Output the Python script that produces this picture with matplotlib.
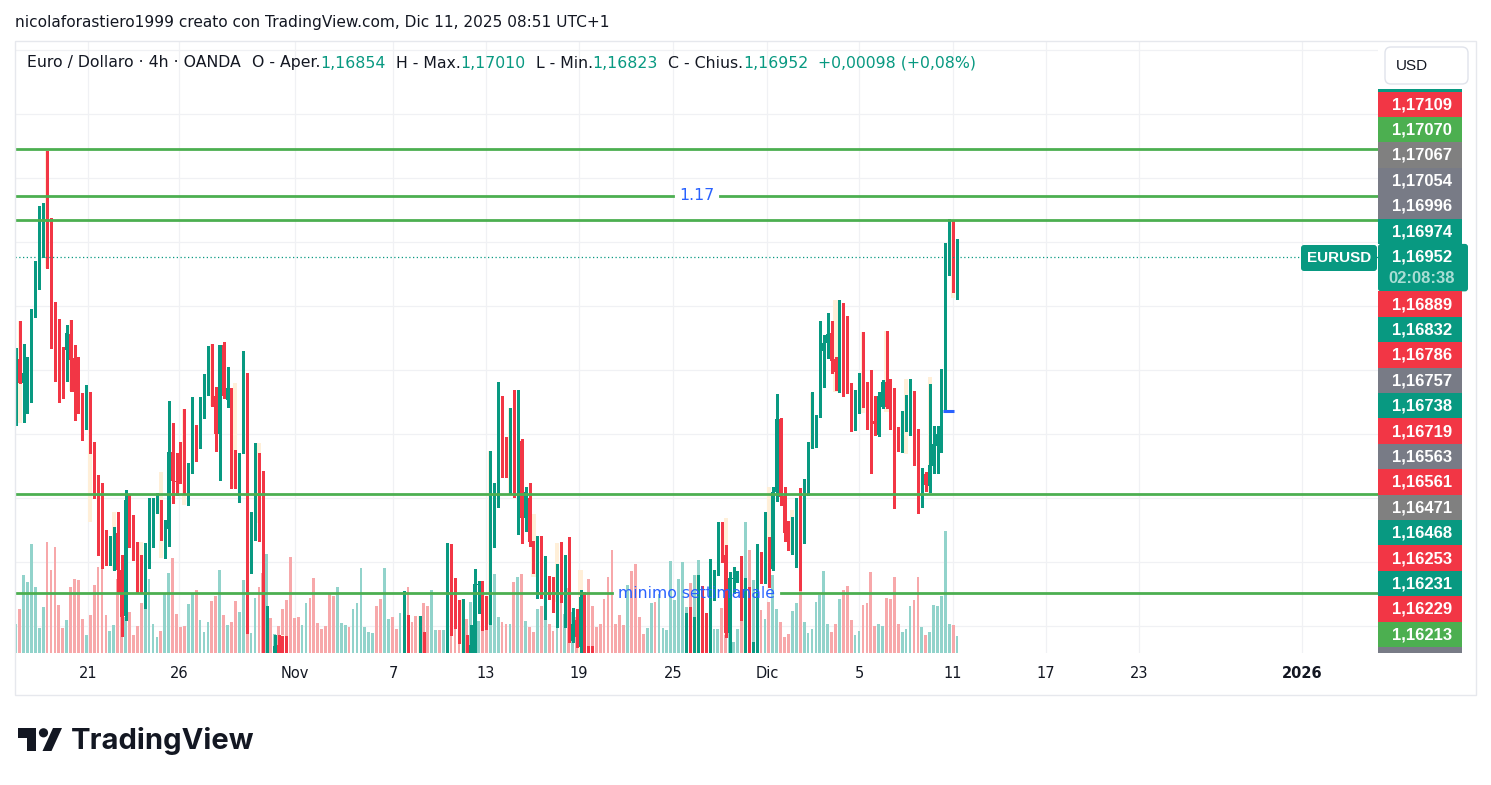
import matplotlib
matplotlib.use("Agg")
import matplotlib.pyplot as plt
from matplotlib.patches import Rectangle, FancyBboxPatch, Circle, Polygon

# ---- data (EUR/USD 4h, OANDA) -------------------------------------------
opens = [
    1.16454, 1.16634, 1.16558, 1.16590, 1.16604, 1.16769, 1.16854, 1.16954, 1.17100, 1.16972,
    1.16766, 1.16706, 1.16671, 1.16662, 1.16712, 1.16636, 1.16534, 1.16493, 1.16421, 1.16530,
    1.16363, 1.16215, 1.16110, 1.16090, 1.15996, 1.16046, 1.16090, 1.15975, 1.15830, 1.16196,
    1.16126, 1.16040, 1.15988, 1.15960, 1.16004, 1.16069, 1.16168, 1.16178, 1.16074, 1.16103,
    1.16345, 1.16254, 1.16355, 1.16350, 1.16246, 1.16279, 1.16412, 1.16386, 1.16454, 1.16556,
    1.16662, 1.16520, 1.16399, 1.16678, 1.16506, 1.16543, 1.16340, 1.16230, 1.16340, 1.16569,
    1.16004, 1.16121, 1.16322, 1.16171, 1.15550, 1.15650, 1.15560, 1.15740, 1.15722, 1.15600,
    1.15400, 1.15350, 1.15300, 1.15250, 1.15400, 1.15450, 1.15300, 1.15200, 1.15100, 1.15000,
    1.14900, 1.14800, 1.14700, 1.14750, 1.14850, 1.14950, 1.14900, 1.15000, 1.15200, 1.15400,
    1.15450, 1.15500, 1.15600, 1.15550, 1.15450, 1.15500, 1.15600, 1.15550, 1.15500, 1.15600,
    1.15803, 1.15650, 1.15620, 1.15600, 1.15690, 1.15620, 1.15550, 1.15580, 1.15620, 1.15600,
    1.15600, 1.16011, 1.15949, 1.15868, 1.15754, 1.15761, 1.15650, 1.15700, 1.15928, 1.15928,
    1.15892, 1.15817, 1.16166, 1.16204, 1.16511, 1.16371, 1.16331, 1.16478, 1.16210, 1.16378,
    1.16139, 1.16201, 1.16064, 1.16001, 1.16014, 1.15910, 1.15938, 1.15921, 1.15904, 1.15970,
    1.15890, 1.15970, 1.15754, 1.15819, 1.15733, 1.15892, 1.15733, 1.15720, 1.15650, 1.15600,
    1.15550, 1.15520, 1.15480, 1.15450, 1.15400, 1.15350, 1.15300, 1.15380, 1.15320, 1.15250,
    1.15200, 1.15180, 1.15250, 1.15300, 1.15220, 1.15280, 1.15350, 1.15400, 1.15480, 1.15520,
    1.15580, 1.15620, 1.15824, 1.15600, 1.15772, 1.15909, 1.15700, 1.15600, 1.15928, 1.15965,
    1.16090, 1.16022, 1.15777, 1.15948, 1.15951, 1.15962, 1.15829, 1.15891, 1.15700, 1.15746,
    1.16027, 1.15935, 1.16048, 1.15977, 1.16220, 1.16446, 1.16206, 1.16102, 1.16090, 1.16100,
    1.16175, 1.16071, 1.16238, 1.16366, 1.16425, 1.16454, 1.16660, 1.16683, 1.16715, 1.16634,
    1.16597, 1.16777, 1.16650, 1.16560, 1.16415, 1.16535, 1.16591, 1.16544, 1.16517, 1.16441,
    1.16396, 1.16485, 1.16564, 1.16544, 1.16515, 1.16388, 1.16353, 1.16473, 1.16490, 1.16525,
    1.16348, 1.16241, 1.16276, 1.16239, 1.16300, 1.16363, 1.16400, 1.16588, 1.16913, 1.17017,
    1.16854,
]
highs = [
    1.16668, 1.16753, 1.16681, 1.16642, 1.16791, 1.16941, 1.17113, 1.17122, 1.17284, 1.17074,
    1.16811, 1.16760, 1.16673, 1.16741, 1.16756, 1.16678, 1.16642, 1.16527, 1.16554, 1.16530,
    1.16376, 1.16272, 1.16246, 1.16100, 1.16080, 1.16110, 1.16157, 1.16022, 1.16225, 1.16210,
    1.16147, 1.16064, 1.16022, 1.16058, 1.16199, 1.16199, 1.16215, 1.16194, 1.16131, 1.16503,
    1.16433, 1.16340, 1.16376, 1.16477, 1.16308, 1.16517, 1.16428, 1.16517, 1.16588, 1.16676,
    1.16681, 1.16548, 1.16678, 1.16689, 1.16608, 1.16543, 1.16350, 1.16340, 1.16660, 1.16592,
    1.16157, 1.16371, 1.16342, 1.16284, 1.15863, 1.15700, 1.15772, 1.15773, 1.15769, 1.15769,
    1.15460, 1.15410, 1.15360, 1.15460, 1.15510, 1.15510, 1.15360, 1.15260, 1.15160, 1.15060,
    1.14960, 1.14860, 1.14810, 1.14910, 1.15010, 1.15010, 1.15060, 1.15260, 1.15460, 1.15510,
    1.15560, 1.15660, 1.15660, 1.15610, 1.15560, 1.15660, 1.15660, 1.15610, 1.15660, 1.15909,
    1.15835, 1.15700, 1.15680, 1.15831, 1.15782, 1.15680, 1.15630, 1.15660, 1.15690, 1.15680,
    1.16060, 1.16056, 1.15950, 1.15881, 1.15883, 1.15771, 1.15803, 1.15977, 1.15942, 1.15942,
    1.15894, 1.16348, 1.16246, 1.16561, 1.16519, 1.16392, 1.16480, 1.16538, 1.16538, 1.16384,
    1.16235, 1.16246, 1.16065, 1.16081, 1.16081, 1.16019, 1.15956, 1.15952, 1.15994, 1.16061,
    1.16022, 1.16079, 1.15855, 1.15853, 1.15912, 1.15907, 1.15738, 1.15738, 1.15690, 1.15660,
    1.15610, 1.15580, 1.15540, 1.15510, 1.15460, 1.15410, 1.15440, 1.15440, 1.15380, 1.15310,
    1.15260, 1.15310, 1.15360, 1.15360, 1.15340, 1.15410, 1.15460, 1.15540, 1.15580, 1.15640,
    1.15680, 1.15840, 1.15858, 1.15829, 1.15959, 1.15925, 1.15840, 1.16008, 1.15975, 1.16124,
    1.16126, 1.16053, 1.15970, 1.15985, 1.15972, 1.16019, 1.15949, 1.15923, 1.15750, 1.16055,
    1.16032, 1.16157, 1.16079, 1.16233, 1.16525, 1.16449, 1.16233, 1.16129, 1.16142, 1.16199,
    1.16230, 1.16258, 1.16376, 1.16532, 1.16459, 1.16753, 1.16709, 1.16779, 1.16754, 1.16642,
    1.16819, 1.16810, 1.16769, 1.16560, 1.16537, 1.16592, 1.16720, 1.16563, 1.16600, 1.16519,
    1.16532, 1.16570, 1.16722, 1.16573, 1.16544, 1.16422, 1.16473, 1.16522, 1.16571, 1.16535,
    1.16417, 1.16294, 1.16281, 1.16555, 1.16425, 1.16425, 1.16602, 1.16998, 1.17071, 1.17067,
    1.17010,
]
lows = [
    1.16428, 1.16558, 1.16439, 1.16465, 1.16501, 1.16767, 1.16854, 1.16954, 1.16918, 1.16670,
    1.16567, 1.16501, 1.16511, 1.16567, 1.16535, 1.16444, 1.16465, 1.16381, 1.16416, 1.16340,
    1.16199, 1.16022, 1.15980, 1.15990, 1.15990, 1.15975, 1.15902, 1.15770, 1.15820, 1.16048,
    1.16006, 1.15907, 1.15907, 1.15855, 1.15980, 1.16046, 1.16152, 1.16069, 1.16014, 1.16050,
    1.16183, 1.16210, 1.16246, 1.16215, 1.16178, 1.16277, 1.16317, 1.16355, 1.16449, 1.16522,
    1.16489, 1.16348, 1.16256, 1.16511, 1.16485, 1.16230, 1.16230, 1.16189, 1.16340, 1.15777,
    1.15965, 1.16069, 1.16067, 1.15500, 1.15480, 1.15500, 1.15520, 1.15550, 1.15480, 1.15350,
    1.15290, 1.15240, 1.15190, 1.15190, 1.15340, 1.15240, 1.15140, 1.15040, 1.14940, 1.14840,
    1.14740, 1.14640, 1.14640, 1.14690, 1.14790, 1.14840, 1.14840, 1.14940, 1.15140, 1.15340,
    1.15390, 1.15440, 1.15490, 1.15390, 1.15390, 1.15440, 1.15490, 1.15440, 1.15440, 1.15550,
    1.15600, 1.15580, 1.15560, 1.15580, 1.15570, 1.15520, 1.15480, 1.15500, 1.15550, 1.15520,
    1.15550, 1.15772, 1.15793, 1.15748, 1.15717, 1.15650, 1.15600, 1.15650, 1.15842, 1.15788,
    1.15791, 1.15806, 1.16048, 1.16173, 1.16267, 1.16265, 1.16212, 1.16204, 1.16088, 1.16060,
    1.16098, 1.16051, 1.15965, 1.15886, 1.15886, 1.15821, 1.15883, 1.15845, 1.15798, 1.15876,
    1.15798, 1.15750, 1.15750, 1.15733, 1.15720, 1.15717, 1.15700, 1.15600, 1.15540, 1.15490,
    1.15460, 1.15420, 1.15390, 1.15340, 1.15290, 1.15240, 1.15240, 1.15260, 1.15190, 1.15140,
    1.15120, 1.15120, 1.15190, 1.15160, 1.15160, 1.15220, 1.15290, 1.15340, 1.15420, 1.15460,
    1.15520, 1.15580, 1.15600, 1.15550, 1.15700, 1.15600, 1.15550, 1.15550, 1.15881, 1.15960,
    1.16001, 1.15767, 1.15700, 1.15902, 1.15939, 1.15819, 1.15700, 1.15650, 1.15650, 1.15700,
    1.15933, 1.15933, 1.15923, 1.15975, 1.16192, 1.16178, 1.16067, 1.16038, 1.16025, 1.15985,
    1.15913, 1.16058, 1.16209, 1.16355, 1.16360, 1.16452, 1.16546, 1.16637, 1.16590, 1.16537,
    1.16531, 1.16519, 1.16527, 1.16410, 1.16413, 1.16465, 1.16483, 1.16415, 1.16279, 1.16396,
    1.16393, 1.16480, 1.16481, 1.16415, 1.16168, 1.16346, 1.16345, 1.16410, 1.16396, 1.16302,
    1.16152, 1.16173, 1.16223, 1.16219, 1.16279, 1.16279, 1.16345, 1.16473, 1.16897, 1.16845,
    1.16823,
]
closes = [
    1.16631, 1.16560, 1.16590, 1.16605, 1.16769, 1.16875, 1.17066, 1.17097, 1.16972, 1.16764,
    1.16707, 1.16506, 1.16665, 1.16715, 1.16631, 1.16532, 1.16491, 1.16410, 1.16530, 1.16357,
    1.16211, 1.16110, 1.16090, 1.15998, 1.16048, 1.16090, 1.15975, 1.15827, 1.16194, 1.16098,
    1.16040, 1.15985, 1.15960, 1.16004, 1.16069, 1.16181, 1.16178, 1.16074, 1.16103, 1.16345,
    1.16254, 1.16250, 1.16348, 1.16246, 1.16282, 1.16412, 1.16386, 1.16451, 1.16556, 1.16662,
    1.16520, 1.16399, 1.16678, 1.16520, 1.16543, 1.16340, 1.16230, 1.16340, 1.16572, 1.16004,
    1.16121, 1.16319, 1.16171, 1.15600, 1.15650, 1.15560, 1.15738, 1.15600, 1.15550, 1.15400,
    1.15350, 1.15300, 1.15250, 1.15400, 1.15450, 1.15300, 1.15200, 1.15100, 1.15000, 1.14900,
    1.14800, 1.14700, 1.14750, 1.14850, 1.14950, 1.14900, 1.15000, 1.15200, 1.15400, 1.15450,
    1.15500, 1.15600, 1.15550, 1.15450, 1.15500, 1.15600, 1.15550, 1.15500, 1.15600, 1.15803,
    1.15650, 1.15620, 1.15600, 1.15690, 1.15620, 1.15550, 1.15580, 1.15620, 1.15600, 1.15650,
    1.16008, 1.15949, 1.15824, 1.15754, 1.15761, 1.15717, 1.15740, 1.15931, 1.15931, 1.15892,
    1.15817, 1.16166, 1.16204, 1.16511, 1.16340, 1.16331, 1.16478, 1.16212, 1.16378, 1.16139,
    1.16218, 1.16064, 1.16001, 1.16014, 1.15910, 1.15938, 1.15921, 1.15904, 1.15977, 1.15881,
    1.15977, 1.15754, 1.15806, 1.15767, 1.15892, 1.15733, 1.15720, 1.15650, 1.15600, 1.15550,
    1.15520, 1.15480, 1.15450, 1.15400, 1.15350, 1.15300, 1.15380, 1.15320, 1.15250, 1.15200,
    1.15180, 1.15250, 1.15300, 1.15220, 1.15280, 1.15350, 1.15400, 1.15480, 1.15520, 1.15580,
    1.15620, 1.15824, 1.15650, 1.15772, 1.15909, 1.15650, 1.15600, 1.15928, 1.15965, 1.16090,
    1.16022, 1.15777, 1.15949, 1.15951, 1.15959, 1.15829, 1.15897, 1.15700, 1.15746, 1.16027,
    1.15982, 1.16048, 1.15975, 1.16220, 1.16446, 1.16204, 1.16090, 1.16090, 1.16102, 1.16175,
    1.16069, 1.16253, 1.16369, 1.16425, 1.16454, 1.16663, 1.16683, 1.16712, 1.16629, 1.16594,
    1.16775, 1.16645, 1.16560, 1.16446, 1.16535, 1.16591, 1.16542, 1.16515, 1.16436, 1.16432,
    1.16519, 1.16564, 1.16485, 1.16515, 1.16388, 1.16365, 1.16473, 1.16494, 1.16525, 1.16348,
    1.16241, 1.16270, 1.16241, 1.16304, 1.16369, 1.16400, 1.16588, 1.16956, 1.17017, 1.16850,
    1.16952,
]
volumes = [
    29, 44, 78, 71, 109, 66, 25, 46, 111, 83, 106, 48, 25, 33, 66, 74, 73, 34, 18, 38,
    68, 86, 113, 38, 22, 28, 74, 41, 36, 41, 18, 27, 50, 51, 74, 29, 16, 22, 60, 80,
    95, 39, 26, 27, 49, 59, 63, 33, 21, 31, 52, 57, 83, 38, 28, 31, 52, 41, 73, 66,
    20, 55, 66, 80, 99, 35, 19, 27, 44, 53, 96, 35, 36, 28, 50, 55, 75, 30, 24, 27,
    59, 57, 66, 30, 28, 26, 44, 50, 85, 26, 21, 20, 47, 54, 85, 34, 36, 24, 40, 55,
    66, 31, 37, 26, 50, 47, 63, 23, 23, 23, 50, 57, 26, 53, 49, 34, 51, 45, 32, 29,
    27, 57, 79, 36, 31, 29, 29, 71, 76, 79, 32, 26, 21, 44, 47, 79, 29, 22, 28, 57,
    39, 65, 41, 36, 16, 58, 74, 47, 26, 29, 54, 76, 103, 29, 38, 28, 68, 82, 89, 36,
    19, 25, 50, 51, 59, 25, 23, 92, 53, 74, 91, 46, 70, 78, 93, 53, 31, 38, 24, 24,
    45, 29, 29, 11, 24, 74, 131, 103, 73, 28, 43, 34, 51, 78, 44, 31, 16, 19, 42, 50,
    78, 31, 20, 24, 51, 58, 82, 29, 21, 29, 54, 63, 67, 33, 18, 22, 48, 50, 81, 27,
    29, 27, 55, 54, 76, 29, 21, 24, 47, 53, 76, 26, 18, 21, 48, 47, 57, 122, 29, 28,
    17,
]

# shaded session candles (bar index, top, bottom)
hl_idx = [1, 8, 14, 19, 25, 32, 37, 43, 50, 56, 62, 68, 103, 114, 121, 126, 132, 138, 144,
          174, 181, 186, 192, 198, 203, 209, 216, 222, 227, 233, 239]
hl_top = [1.16753, 1.17284, 1.16756, 1.16530, 1.16157, 1.16064, 1.16282, 1.16477, 1.16681,
          1.16558, 1.16373, 1.15773, 1.15831, 1.15884, 1.16348, 1.16480, 1.16150, 1.16060,
          1.15975, 1.15960, 1.16136, 1.15944, 1.16235, 1.16163, 1.16529, 1.16819, 1.16720,
          1.16722, 1.16571, 1.16579, 1.17067]
hl_bot = [1.16433, 1.16918, 1.16535, 1.16126, 1.15975, 1.15907, 1.16011, 1.16178, 1.16489,
          1.16230, 1.16121, 1.15600, 1.15600, 1.15600, 1.15806, 1.16212, 1.15954, 1.15876,
          1.15600, 1.15600, 1.15772, 1.15600, 1.15975, 1.16027, 1.16355, 1.16532, 1.16465,
          1.16470, 1.16337, 1.16215, 1.16824]

levels = [1.17291, 1.17144, 1.17070, 1.16213, 1.15903]
level_text = {1.17144: "1.17", 1.15903: "minimo settimanale"}
last_price = 1.16952
marker_price = 1.16471
marker_from, marker_to = 236.4, 239.2

tick_pos = [18.4, 41.6, 71.2, 96.2, 119.9, 143.6, 167.5, 191.5, 215.0, 238.9, 262.6, 286.3, 327.9]
tick_lab = ["21", "26", "Nov", "7", "13", "19", "25", "Dic", "5", "11", "17", "23", "2026"]
grid_prices = [1.158, 1.160, 1.162, 1.164, 1.166, 1.168, 1.170, 1.172, 1.174, 1.176]

scale_vals = ["1,17109", "1,17070", "1,17067", "1,17054", "1,16996", "1,16974", "1,16952",
              "1,16889", "1,16832", "1,16786", "1,16757", "1,16738", "1,16719", "1,16563",
              "1,16561", "1,16471", "1,16468", "1,16253", "1,16231", "1,16229", "1,16213"]
scale_cols = ["red", "green", "gray", "slate", "slate", "teal", "teal",
              "red", "teal", "red", "slate", "teal", "red", "slate",
              "red", "gray", "teal", "red", "teal", "red", "green"]

# ---- style ---------------------------------------------------------------
W, H = 1491, 785
UP, DOWN = "#089981", "#F23645"
PAL = {"red": "#F23645", "green": "#4CAF50", "gray": "#808080", "slate": "#787B86", "teal": "#089981"}
TXT = "#131722"
BLUE = "#2962FF"
GRID = "#F0F1F4"

fig = plt.figure(figsize=(W / 100, H / 100), dpi=100)
fig.patch.set_facecolor("white")

left, right, top, bottom = 15, 1378, 41, 653
rect = [left / W, 1 - bottom / H, (right - left) / W, (bottom - top) / H]
axv = fig.add_axes(rect)
ax = fig.add_axes(rect, sharex=axv)
ax.patch.set_alpha(0)
for a in (ax, axv):
    a.set_axis_off()

n = len(closes)
xs = list(range(n))
is_up = [c >= o for o, c in zip(opens, closes)]
cols = [UP if u else DOWN for u in is_up]

ax.set_xlim(-0.18, 347.3)
ax.set_ylim(1.157156, 1.176281)

# grid (behind the volume bars)
ytr = ax.get_yaxis_transform()
for p in grid_prices:
    axv.plot([0, 1], [p, p], transform=ytr, color=GRID, lw=0.9, zorder=0)
for t in tick_pos:
    axv.axvline(t, color=GRID, lw=0.9, zorder=0)

# volume
vcols = ["#92D3CB" if u else "#F7A8AA" for u in is_up]
axv.bar(xs, volumes, width=0.7, color=vcols, linewidth=0, zorder=1, antialiased=False)
axv.set_ylim(0, 611)

# session shading
ax.bar(hl_idx, [t - b for t, b in zip(hl_top, hl_bot)], bottom=hl_bot, width=1.05,
       color="#FFEFD8", linewidth=0, zorder=1)

# candles
ax.vlines(xs, lows, highs, colors=cols, linewidth=1.0, zorder=3, antialiased=False)
body_h = [max(abs(c - o), 0.00003) for o, c in zip(opens, closes)]
body_b = [min(o, c) for o, c in zip(opens, closes)]
ax.bar(xs, body_h, bottom=body_b, width=0.64, color=cols, linewidth=0, zorder=4,
       antialiased=False)

# horizontal levels with centred labels
renderer = fig.canvas.get_renderer()
for lv in levels:
    if lv in level_text:
        t = ax.text(0.5, lv, level_text[lv], transform=ytr, ha="center", va="center",
                    color=BLUE, fontsize=11.3, zorder=7)
        bb = t.get_window_extent(renderer=renderer)
        inv = ax.transAxes.inverted()
        x0 = inv.transform((bb.x0 - 6, 0))[0]
        x1 = inv.transform((bb.x1 + 6, 0))[0]
        ax.axhline(lv, 0, x0, color="#4CAF50", lw=2.0, zorder=6)
        ax.axhline(lv, x1, 1, color="#4CAF50", lw=2.0, zorder=6)
    else:
        ax.axhline(lv, color="#4CAF50", lw=2.0, zorder=6)

ax.axhline(last_price, color=UP, lw=0.9, ls=(0, (1, 2)), zorder=5)
ax.hlines(marker_price, marker_from, marker_to, color=BLUE, lw=2.2, zorder=6)

# date labels
xtr = ax.get_xaxis_transform()
y_lab = -(674 - bottom) / (bottom - top)
for p, s in zip(tick_pos, tick_lab):
    ax.text(p, y_lab, s, transform=xtr, ha="center", va="center", fontsize=10.5, color=TXT,
            fontweight="bold" if s == "2026" else "normal", clip_on=False)

# ---- pixel overlay for frame, scale labels, header -------------------------
ov = fig.add_axes([0, 0, 1, 1])
ov.set_xlim(0, W)
ov.set_ylim(H, 0)
ov.set_axis_off()
ov.patch.set_visible(False)

ov.add_patch(Rectangle((14.5, 40.5), 1461.5, 654, fill=False, ec="#E6E8ED", lw=1))

ov.text(15, 22, "nicolaforastiero1999 creato con TradingView.com, Dic 11, 2025 08:51 UTC+1",
        fontsize=11.1, color=TXT, va="center", ha="left")

# legend line
pieces = [("Euro / Dollaro · 4h · OANDA", TXT, 11), ("O - Aper.", TXT, 0), ("1,16854", UP, 10),
          ("H - Max.", TXT, 0), ("1,17010", UP, 10), ("L - Min.", TXT, 0), ("1,16823", UP, 10),
          ("C - Chius.", TXT, 0), ("1,16952", UP, 10), ("+0,00098 (+0,08%)", UP, 0)]
xcur = 27
for s, c, g in pieces:
    t = ov.text(xcur, 63, s, fontsize=11.3, color=c, va="center", ha="left")
    bb = t.get_window_extent(renderer=renderer)
    xcur += bb.width + g

# USD box
ov.add_patch(FancyBboxPatch((1385, 47), 83, 37, boxstyle="round,pad=0,rounding_size=6",
                            fc="white", ec="#E0E3EB", lw=1))
ov.text(1412, 66, "USD", fontsize=11, family="Liberation Sans", color=TXT, va="center", ha="center")

# price scale labels
yb = 91.5
ov.add_patch(Rectangle((1378, 89), 84, 3, color=UP, lw=0))
for v, c in zip(scale_vals, scale_cols):
    if v == "1,16952":
        hgt = 47.5
        ov.add_patch(FancyBboxPatch((1378, yb), 90, hgt, boxstyle="round,pad=0,rounding_size=3",
                                    fc=PAL[c], ec="none"))
        ov.text(1422, yb + 13, v, fontsize=12, family="Liberation Sans", fontweight="bold",
                color="white", ha="center", va="center")
        ov.text(1422, yb + 35, "02:08:38", fontsize=12, family="Liberation Sans", fontweight="bold",
                color="#A9DDD4", ha="center", va="center")
    else:
        hgt = 25.4
        ov.add_patch(Rectangle((1378, yb), 84, hgt, color=PAL[c], lw=0))
        ov.text(1422, yb + hgt / 2 + 0.5, v, fontsize=12, family="Liberation Sans", fontweight="bold",
                color="white", ha="center", va="center")
    yb += hgt
ov.add_patch(Rectangle((1378, yb), 84, 653 - yb, color=PAL["slate"], lw=0))

# EURUSD tag
ov.add_patch(FancyBboxPatch((1301, 245), 76, 26, boxstyle="round,pad=0,rounding_size=3",
                            fc=UP, ec="none"))
ov.text(1339, 258.5, "EURUSD", fontsize=11, family="Liberation Sans", fontweight="bold",
        color="white", ha="center", va="center")

# footer logo
ov.add_patch(Rectangle((18, 728), 18, 9.5, color="#131722", lw=0))
ov.add_patch(Rectangle((27, 728), 9, 23, color="#131722", lw=0))
ov.add_patch(Circle((43.5, 732.8), 4.6, color="#131722", lw=0))
ov.add_patch(Polygon([(42.5, 751), (51.5, 751), (62, 728), (53, 728)], closed=True,
                     color="#131722", lw=0))
ov.text(71, 741, "TradingView", fontsize=21, family="Inter", fontweight="bold",
        color="#131722", ha="left", va="center")

fig.savefig("out.png", dpi=100)
